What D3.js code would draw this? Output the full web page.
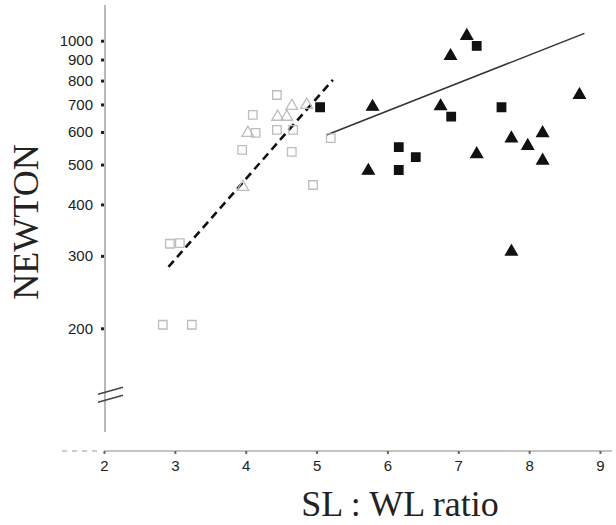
<!DOCTYPE html>
<html><head><meta charset="utf-8">
<script src="https://cdn.jsdelivr.net/npm/d3@7"></script>
<style>body{margin:0;background:#fff}svg{display:block}</style>
</head><body>
<script>
// ---- data ----
const xTicks = [2,3,4,5,6,7,8,9];
const yTicks = [200,300,400,500,600,700,800,900,1000];

// open (light grey) symbols
const openSquaresX = [2.83,3.24,2.93,3.07,4.44,4.10,4.14,4.44,4.67,3.95,4.65,4.95,5.20];
const openSquaresY = [204,204,321,322,738,660,597,607,607,543,537,446,580];
const openTrianglesX = [4.65,4.86,4.45,4.58,4.03,3.96];
const openTrianglesY = [694,698,653,653,597,441];

// filled (black) symbols
const filledSquaresX = [5.05,7.26,6.90,7.61,6.16,6.40,6.16];
const filledSquaresY = [689,971,654,689,551,521,485];
const filledTrianglesX = [7.12,6.89,5.79,6.75,8.71,7.75,8.19,7.98,8.19,7.26,5.73,7.75];
const filledTrianglesY = [1027,918,691,693,738,579,596,555,511,530,483,307];

// regression lines
const dashedLineX = [2.91,5.23];
const dashedLineY = [282,803];
const solidLineX = [5.14,8.78];
const solidLineY = [590,1042];

const W=616,H=525;
const svg=d3.select("body").append("svg").attr("width",W).attr("height",H);
const x=d3.scaleLinear().domain([2,9]).range([104,600]);
const y=d3.scaleLog().domain([200,1000]).range([328.3,40.7]);

const axisColor="#8a8a8a";
const x0=x(2);
// y axis line (with break)
svg.append("line").attr("x1",x0+1).attr("x2",x0+1).attr("y1",5).attr("y2",432)
  .attr("stroke",axisColor).attr("stroke-width",1.2);
// break marks
const bY = y(200)+62;
[0,8].forEach(o=>{
  svg.append("line").attr("x1",x0-6).attr("y1",bY+o+4).attr("x2",x0+19).attr("y2",bY+o-3)
    .attr("stroke","#444").attr("stroke-width",1.6);
});
// x axis line
const xAxisY=451;
svg.append("line").attr("x1",x0).attr("x2",612).attr("y1",xAxisY).attr("y2",xAxisY)
  .attr("stroke",axisColor).attr("stroke-width",1.2);
svg.append("line").attr("x1",62).attr("x2",x0-3).attr("y1",xAxisY).attr("y2",xAxisY)
  .attr("stroke","#bbb").attr("stroke-width",1.5).attr("stroke-dasharray","5,5");

// y axis ticks
const yAxis=d3.axisLeft(y).tickValues(yTicks).tickFormat(d3.format("d")).tickSize(3).tickPadding(8);
const gy=svg.append("g").attr("transform",`translate(${x0},0)`).call(yAxis);
gy.select(".domain").remove();
gy.selectAll(".tick line").attr("stroke","#222").attr("stroke-width",3);
gy.selectAll(".tick text").attr("font-family","Liberation Sans, Arial, sans-serif")
  .attr("font-size",15).attr("fill","#222");

// x axis ticks
const xAxis=d3.axisBottom(x).tickValues(xTicks).tickFormat(d3.format("d")).tickSize(3).tickPadding(6);
const gx=svg.append("g").attr("transform",`translate(0,${xAxisY})`).call(xAxis);
gx.select(".domain").remove();
gx.selectAll(".tick line").attr("stroke","#666").attr("stroke-width",2);
gx.selectAll(".tick text").attr("font-family","Liberation Sans, Arial, sans-serif")
  .attr("font-size",15).attr("fill","#222");

// titles
svg.append("text").attr("x",400).attr("y",516).attr("text-anchor","middle")
  .attr("font-family","Liberation Serif, Times New Roman, serif").attr("font-size",36).attr("fill","#222")
  .text("SL : WL ratio");
svg.append("text").attr("transform","translate(38,222) rotate(-90)").attr("text-anchor","middle")
  .attr("font-family","Liberation Serif, Times New Roman, serif").attr("font-size",36).attr("fill","#222")
  .text("NEWTON");

// regression lines
const line=d3.line().x(d=>x(d[0])).y(d=>y(d[1]));
svg.append("path").datum(d3.zip(dashedLineX,dashedLineY)).attr("d",line)
  .attr("fill","none").attr("stroke","#111").attr("stroke-width",2.6).attr("stroke-dasharray","8,5");
svg.append("path").datum(d3.zip(solidLineX,solidLineY)).attr("d",line)
  .attr("fill","none").attr("stroke","#333").attr("stroke-width",1.5);

const sq=d3.symbol().type(d3.symbolSquare).size(72);
const tri=d3.symbol().type(d3.symbolTriangle).size(60);

function draw(xs,ys,sym,fill,stroke){
  svg.append("g").selectAll("path").data(d3.zip(xs,ys)).join("path")
    .attr("d",sym).attr("transform",d=>`translate(${x(d[0])},${y(d[1])})`)
    .attr("fill",fill).attr("stroke",stroke).attr("stroke-width",1.3);
}
draw(openSquaresX,openSquaresY,sq,"none","#bdbdbd");
draw(openTrianglesX,openTrianglesY,tri,"none","#bdbdbd");
draw(filledSquaresX,filledSquaresY,sq,"#111","#111");
draw(filledTrianglesX,filledTrianglesY,tri,"#111","#111");
</script>
</body></html>
